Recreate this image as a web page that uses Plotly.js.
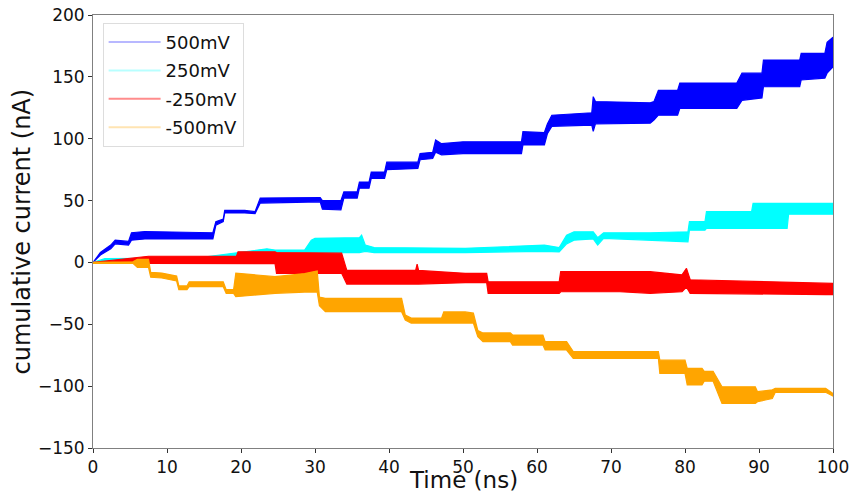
<!DOCTYPE html>
<html>
<head>
<meta charset="utf-8">
<script src="https://cdn.plot.ly/plotly-3.0.1.min.js"></script>
<style>html,body{margin:0;padding:0;background:#fff;}#chart{width:852px;height:495px;}</style>
</head>
<body>
<div id="chart"></div>
<script>
// ---- Data (envelope of each noisy series) ----
const seriesNames = ["500mV", "250mV", "-250mV", "-500mV"];

const blueX  = [0, 1, 2.4, 3, 4.8, 5.2, 7, 16.2, 16.6, 17.6, 17.8, 20.5, 21.9, 22.6, 30.7, 31, 33.5, 33.9, 35.7, 36, 37.3, 37.6, 39.4, 39.7, 43.9, 44.2, 45.9, 46.3, 47.1, 50, 57.9, 58.1, 61, 61.4, 62, 67.4, 67.6, 67.9, 75.3, 75.8, 76.4, 79, 79.3, 87, 87.7, 90.4, 90.6, 95.5, 95.7, 98.9, 99.2, 100];
const blueLo = [0, 6, 11, 15, 14, 18, 19, 19, 30, 33, 40, 40, 39.5, 48, 49, 43, 42.5, 52, 52, 60, 60, 68, 68, 75, 76, 83, 84, 89, 87, 88, 88, 95, 95, 104, 110, 111, 106, 112, 112.5, 115, 119, 119, 124.5, 124.5, 131, 133, 142, 142, 147.5, 149, 153, 158];
const blueHi = [0, 8, 14, 18, 17, 24, 25, 24, 33, 35, 42, 42, 41, 52, 52.5, 50, 50, 57, 57, 65, 65, 73, 73, 81, 81, 88, 89, 99, 96, 97.5, 97.5, 105.7, 105, 112, 119, 121, 134, 130, 129, 130, 139, 139, 145, 145, 153, 153, 163.6, 163.6, 169, 169, 178, 182];

const cyanX  = [0, 1.6, 14, 19.4, 23.5, 24.6, 28.6, 29.5, 30, 36, 36.3, 36.8, 38, 50.3, 61, 63, 64, 65, 67.6, 68.2, 69, 75.3, 80.4, 80.6, 82.7, 82.9, 89, 89.2, 93.8, 94, 100];
const cyanLo = [0, 0.5, 0.5, 1, 4, 3.5, 4, 8, 8, 8, 8, 9, 8, 8, 9, 8.5, 15, 18, 19, 14, 19.5, 18, 16.7, 26, 26, 27.6, 28, 27.6, 27.6, 39, 39];
const cyanHi = [0, 3, 3.5, 8, 11, 10, 10, 18, 19.5, 20, 22, 14, 12, 11.4, 14, 12, 22, 24.8, 24.8, 20, 24, 24, 24.8, 33, 33, 41, 41, 47.8, 47.8, 47.8, 47.8];

const redX  = [0, 7.5, 19.4, 19.6, 24.6, 24.8, 33.6, 34.3, 43.6, 43.8, 44, 50.3, 53.2, 53.4, 63, 63.2, 71.2, 75.3, 79.6, 80.2, 80.7, 99, 100];
const redLo = [0, -0.7, -0.7, -1, -1, -8.8, -8.8, -17.5, -17.5, -17.5, -17.5, -16.4, -16.4, -25, -25, -23.7, -23.7, -25, -23.7, -20, -25, -26, -26];
const redHi = [0, 5, 5.2, 8.6, 8.6, 8, 7.5, -6.5, -6.5, -1.3, -6.5, -8.8, -8.8, -15.6, -15.6, -7.5, -7.5, -7.5, -10, -4.8, -14, -17, -17];

const orangeX  = [0, 5.4, 6, 7.5, 7.8, 9.3, 11.3, 11.6, 12.7, 13, 17.6, 18, 19, 19.3, 24.6, 28.6, 30.3, 30.6, 31.4, 41.7, 42.2, 43, 47.1, 47.4, 50.3, 51.4, 52, 52.7, 56.4, 56.7, 60.8, 61.1, 64, 64.9, 76.4, 76.6, 80, 80.3, 82.3, 82.6, 83.8, 85, 89.5, 89.8, 91.8, 92.2, 99, 100];
const orangeLo = [-0.7, -0.7, -4, -4, -12, -12.6, -15, -22, -22, -19.6, -19.6, -25, -25, -27.7, -25, -24, -24, -35, -39.8, -39.8, -46.6, -49, -49, -49, -49, -49, -60, -64, -64, -66.8, -66.8, -70.8, -70.8, -77.5, -77.5, -89.7, -89.7, -99, -99, -96, -96, -114, -114, -112.6, -110, -105, -105, -108];
const orangeHi = [0, 0.5, 2.5, 2.5, -8, -8.6, -11, -19, -19, -15.6, -15.6, -22, -22, -8.6, -11.5, -9, -7, -28, -29, -29, -42.5, -45, -45, -40, -40, -41, -55, -57, -57, -58.7, -58.7, -64, -64, -72, -72, -79, -79, -85.6, -85.6, -88, -88, -100.5, -100.5, -104.5, -103, -101.8, -101.8, -106];

const xTicks = [0, 10, 20, 30, 40, 50, 60, 70, 80, 90, 100];
const yTicks = [-150, -100, -50, 0, 50, 100, 150, 200];
const xTitle = "Time (ns)";
const yTitle = "cumulative current (nA)";

// ---- Styling ----
const solid = ["#0000ff", "#00ffff", "#ff0000", "#ffa500"];
const pale  = ["rgba(0,0,255,0.28)", "rgba(0,255,255,0.28)", "rgba(255,0,0,0.45)", "rgba(255,165,0,0.3)"];

function band(xs, lo, hi, color) {
  const px = xs.concat(xs.slice().reverse());
  const py = hi.concat(lo.slice().reverse());
  return {x: px, y: py, mode: "lines", fill: "toself", fillcolor: color,
          line: {color: color, width: 1.2}, showlegend: false, hoverinfo: "skip"};
}

const data = [
  band(blueX, blueLo, blueHi, solid[0]),
  band(cyanX, cyanLo, cyanHi, solid[1]),
  band(redX, redLo, redHi, solid[2]),
  band(orangeX, orangeLo, orangeHi, solid[3])
];
seriesNames.forEach((n, i) => {
  data.push({x: [null], y: [null], mode: "lines", name: n, legendgroup: "g" + i,
             line: {color: pale[i], width: 2}, showlegend: true});
});

const FAM = "DejaVu Sans, sans-serif";
const tickFont = {family: FAM, size: 17, color: "#111"};
const titleFont = {family: FAM, size: 24, color: "#111"};
const xTitleFont = {family: FAM, size: 23, color: "#111"};

const layout = {
  width: 852, height: 495,
  margin: {l: 93, r: 19, t: 15, b: 47},
  paper_bgcolor: "#fff", plot_bgcolor: "#fff",
  font: tickFont,
  showlegend: true,
  legend: {x: 0.013, y: 0.982, xanchor: "left", yanchor: "top",
           bgcolor: "rgba(255,255,255,0.8)", bordercolor: "#dddddd", borderwidth: 1,
           font: {family: FAM, size: 18, color: "#111"}, itemwidth: 52,
           tracegroupgap: 2, traceorder: "grouped"},
  xaxis: {range: [0, 100], tickvals: xTicks, ticks: "outside", ticklen: 4, tickcolor: "#333",
          showgrid: false, zeroline: false, showline: true, linecolor: "#808080", linewidth: 1, mirror: true,
          automargin: false, tickfont: tickFont},
  yaxis: {range: [-150, 200], tickvals: yTicks, ticks: "outside", ticklen: 4, tickcolor: "#333",
          showgrid: false, zeroline: false, showline: true, linecolor: "#808080", linewidth: 1, mirror: true,
          automargin: false, tickfont: tickFont},
  annotations: [
    {text: yTitle, xref: "paper", yref: "paper", x: -0.096, y: 0.5,
     xanchor: "center", yanchor: "middle", textangle: -90, showarrow: false, font: titleFont},
    {text: xTitle, xref: "paper", yref: "paper", x: 0.5, y: -0.075,
     xanchor: "center", yanchor: "middle", showarrow: false, borderpad: 0, font: xTitleFont}
  ]
};

Plotly.newPlot("chart", data, layout, {displayModeBar: false, staticPlot: true});
</script>
</body>
</html>
